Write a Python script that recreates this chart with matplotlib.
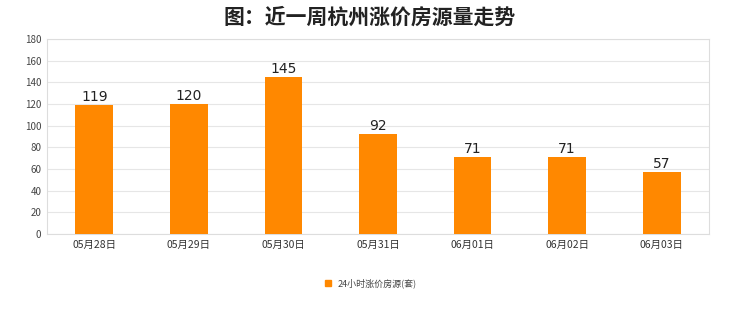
import matplotlib
matplotlib.use("Agg")
import matplotlib.pyplot as plt
from matplotlib.lines import Line2D

plt.rcParams['font.family'] = ['Noto Sans CJK SC', 'DejaVu Sans']

categories = ["05月28日", "05月29日", "05月30日", "05月31日", "06月01日", "06月02日", "06月03日"]
values = [119, 120, 145, 92, 71, 71, 57]
yticks = [0, 20, 40, 60, 80, 100, 120, 140, 160, 180]
series_name = "24小时涨价房源(套)"
title = "图：近一周杭州涨价房源量走势"

fig = plt.figure(figsize=(7.4, 3.12), dpi=100)
fig.patch.set_facecolor('white')
ax = fig.add_axes([47/740, 1-234/312, 662/740, 195/312])

x = range(len(categories))
ax.bar(x, values, width=0.40, color='#ff8800', zorder=3)
for xi, v in zip(x, values):
    ax.text(xi, v + 1.0, str(v), ha='center', va='bottom', fontsize=10,
            color='#222222', zorder=4, family='DejaVu Sans')

ax.set_xlim(-0.5, len(categories) - 0.5)
ax.set_ylim(0, 180)
ax.set_yticks(yticks)
ax.set_yticklabels([str(t) for t in yticks], fontsize=7, color='#444444')
ax.set_xticks(list(x))
ax.set_xticklabels(categories, fontsize=7.5, color='#333333')
ax.tick_params(axis='both', length=0, pad=4)
ax.grid(axis='y', color='#e6e6e6', linewidth=0.8, zorder=0)
for s in ax.spines.values():
    s.set_color('#dddddd')
    s.set_linewidth(0.8)

fig.text(0.5, 1-17/312, title, ha='center', va='center', fontsize=15,
         fontweight='bold', color='#222222')

handle = Line2D([], [], marker='s', linestyle='none', markersize=5,
                markerfacecolor='#ff8800', markeredgecolor='#ff8800')
leg = fig.legend([handle], [series_name], loc='center', bbox_to_anchor=(0.5, 1-283/312),
                 frameon=False, fontsize=6.5, handletextpad=0.6, handlelength=1.0)
for t in leg.get_texts():
    t.set_color('#444444')

fig.savefig('out.png', dpi=100, facecolor='white')
